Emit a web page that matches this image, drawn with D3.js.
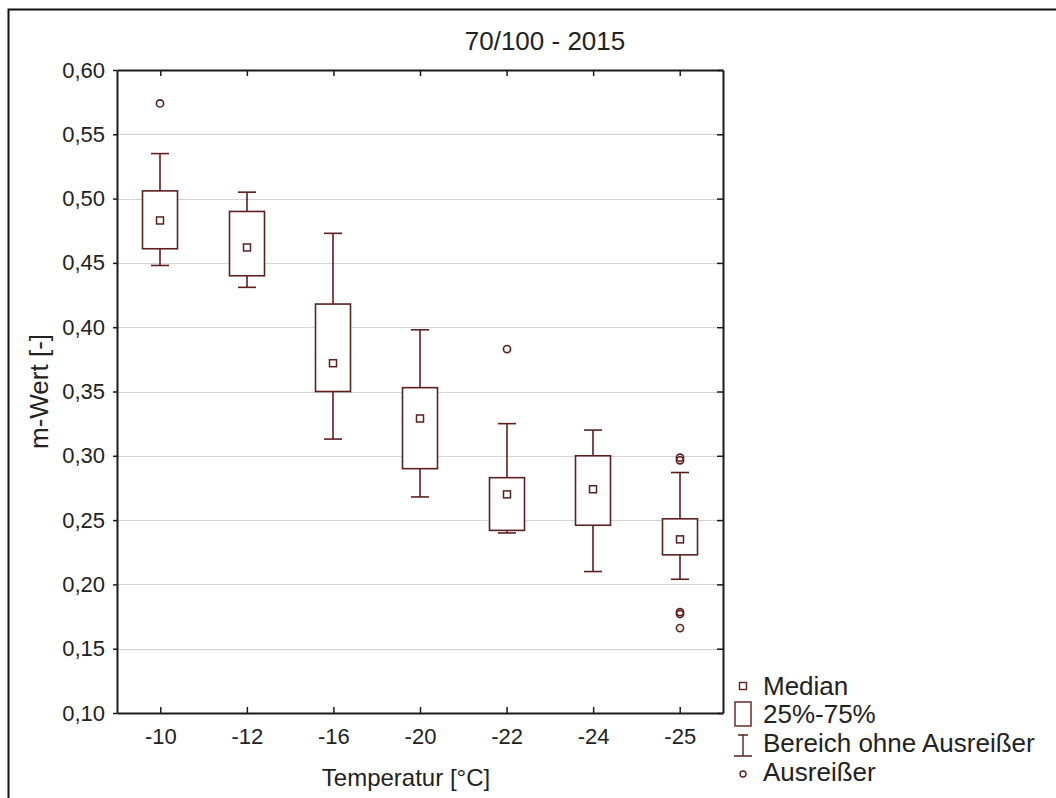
<!DOCTYPE html>
<html>
<head>
<meta charset="utf-8">
<script src="https://cdn.jsdelivr.net/npm/d3@7"></script>
<style>
    body { margin: 0; background: #fff; }
    svg { display: block; font-family: "Liberation Sans", Arial, sans-serif; }
</style>
</head>
<body>
<div id="chart"></div>
<script>
var categories = ["-10", "-12", "-16", "-20", "-22", "-24", "-25"];
var whiskerLow = [0.448, 0.431, 0.313, 0.268, 0.240, 0.210, 0.204];
var quartil1 = [0.461, 0.440, 0.350, 0.290, 0.242, 0.246, 0.223];
var medians = [0.483, 0.462, 0.372, 0.329, 0.270, 0.274, 0.235];
var quartil3 = [0.506, 0.490, 0.418, 0.353, 0.283, 0.300, 0.251];
var whiskerHigh = [0.535, 0.505, 0.473, 0.398, 0.325, 0.320, 0.287];
var outliers = [[0.574], [], [], [], [0.383], [], [0.2965, 0.2985, 0.177, 0.1785, 0.166]];
var yTicks = [0.10, 0.15, 0.20, 0.25, 0.30, 0.35, 0.40, 0.45, 0.50, 0.55, 0.60];
var legendLabels = ["Median", "25%-75%", "Bereich ohne Ausreißer", "Ausreißer"];

var W = 1056, H = 798;
var plot = { left: 117, right: 723, top: 70, bottom: 713 };
var boxColor = "#5e1f1f";
var textColor = "#222";

var svg = d3.select("#chart").append("svg")
    .attr("width", W)
    .attr("height", H);

// outer frame (runs off the right and bottom of the picture)
svg.append("path")
    .attr("d", "M8.5," + (H + 5) + "V9.5H" + (W + 5))
    .attr("fill", "none")
    .attr("stroke", "#111")
    .attr("stroke-width", 2);

var x = d3.scalePoint()
    .domain(categories)
    .range([plot.left, plot.right])
    .padding(0.5);

var y = d3.scaleLinear()
    .domain([0.10, 0.60])
    .range([plot.bottom, plot.top]);

var fmt = function (v) { return d3.format(".2f")(v).replace(".", ","); };

// grid
svg.append("g")
    .selectAll("line")
    .data(yTicks.slice(1, -1))
    .enter().append("line")
    .attr("x1", plot.left + 1)
    .attr("x2", plot.right - 1)
    .attr("y1", function (d) { return Math.round(y(d)) + 0.5; })
    .attr("y2", function (d) { return Math.round(y(d)) + 0.5; })
    .attr("stroke", "#d4d4d4")
    .attr("stroke-width", 1.2);

// axes
var axisStyle = function (g) {
    g.select(".domain").attr("stroke", "#1a1a1a").attr("stroke-width", 2);
    g.selectAll(".tick line").attr("stroke", "#1a1a1a").attr("stroke-width", 1.5);
    g.selectAll(".tick text")
        .attr("fill", textColor)
        .style("font-size", "22px");
};

svg.append("g")
    .attr("transform", "translate(0," + plot.bottom + ")")
    .call(d3.axisBottom(x).tickSizeInner(-6).tickSizeOuter(0).tickPadding(11))
    .call(axisStyle)
    .selectAll(".tick text").attr("dy", "0.9em");

svg.append("g")
    .attr("transform", "translate(0," + plot.top + ")")
    .call(d3.axisTop(x).tickSizeInner(-6).tickSizeOuter(0).tickFormat(""))
    .call(axisStyle);

svg.append("g")
    .attr("transform", "translate(" + plot.left + ",0)")
    .call(d3.axisLeft(y).tickValues(yTicks).tickFormat(fmt).tickSizeInner(4).tickSizeOuter(0).tickPadding(8))
    .call(axisStyle);

svg.append("g")
    .attr("transform", "translate(" + plot.right + ",0)")
    .call(d3.axisRight(y).tickValues(yTicks).tickSizeInner(-6).tickSizeOuter(0).tickFormat(""))
    .call(axisStyle);

// boxes
var boxW = 35, capW = 18, medS = 7;
var boxes = svg.append("g")
    .selectAll("g")
    .data(categories)
    .enter().append("g")
    .attr("transform", function (d) { return "translate(" + Math.round(x(d)) + ",0)"; });

boxes.append("line")
    .attr("y1", function (d, i) { return y(whiskerHigh[i]); })
    .attr("y2", function (d, i) { return y(whiskerLow[i]); })
    .attr("stroke", boxColor).attr("stroke-width", 1.6);

boxes.selectAll(".cap")
    .data(function (d, i) { return [whiskerLow[i], whiskerHigh[i]]; })
    .enter().append("line")
    .attr("class", "cap")
    .attr("x1", -capW / 2).attr("x2", capW / 2)
    .attr("y1", function (v) { return y(v); })
    .attr("y2", function (v) { return y(v); })
    .attr("stroke", boxColor).attr("stroke-width", 1.6);

boxes.append("rect")
    .attr("x", -boxW / 2)
    .attr("width", boxW)
    .attr("y", function (d, i) { return y(quartil3[i]); })
    .attr("height", function (d, i) { return y(quartil1[i]) - y(quartil3[i]); })
    .attr("fill", "#fff")
    .attr("stroke", boxColor).attr("stroke-width", 1.6);

boxes.append("rect")
    .attr("x", -medS / 2)
    .attr("width", medS)
    .attr("height", medS)
    .attr("y", function (d, i) { return y(medians[i]) - medS / 2; })
    .attr("fill", "#fff")
    .attr("stroke", boxColor).attr("stroke-width", 1.5);

boxes.selectAll(".out")
    .data(function (d, i) { return outliers[i]; })
    .enter().append("circle")
    .attr("class", "out")
    .attr("r", 3.6)
    .attr("cy", function (v) { return y(v); })
    .attr("fill", "none")
    .attr("stroke", boxColor).attr("stroke-width", 1.6);

// title and axis labels
svg.append("text")
    .attr("x", 545).attr("y", 50)
    .attr("text-anchor", "middle")
    .attr("fill", textColor)
    .style("font-size", "26px")
    .text("70/100 - 2015");

svg.append("text")
    .attr("x", 406).attr("y", 786)
    .attr("text-anchor", "middle")
    .attr("fill", textColor)
    .style("font-size", "24px")
    .text("Temperatur [°C]");

svg.append("text")
    .attr("transform", "translate(48," + (plot.top + plot.bottom) / 2 + ") rotate(-90)")
    .attr("text-anchor", "middle")
    .attr("fill", textColor)
    .style("font-size", "26px")
    .text("m-Wert [-]");

// legend
var lx = 743, rows = [686, 714, 743, 772];
var legend = svg.append("g");
legend.append("rect")
    .attr("x", lx - 3.5).attr("y", rows[0] - 3.5)
    .attr("width", 7).attr("height", 7)
    .attr("fill", "none").attr("stroke", boxColor).attr("stroke-width", 1.4);
legend.append("rect")
    .attr("x", lx - 8).attr("y", rows[1] - 12)
    .attr("width", 16).attr("height", 24)
    .attr("fill", "none").attr("stroke", boxColor).attr("stroke-width", 1.4);
legend.append("path")
    .attr("d", "M" + (lx - 5) + "," + (rows[2] - 8) + "H" + (lx + 5) +
        "M" + lx + "," + (rows[2] - 8) + "V" + (rows[2] + 13) +
        "M" + (lx - 9) + "," + (rows[2] + 13) + "H" + (lx + 9))
    .attr("fill", "none").attr("stroke", boxColor).attr("stroke-width", 1.4);
legend.append("circle")
    .attr("cx", lx).attr("cy", rows[3] + 2).attr("r", 3)
    .attr("fill", "none").attr("stroke", boxColor).attr("stroke-width", 1.4);

legend.selectAll("text")
    .data(legendLabels)
    .enter().append("text")
    .attr("x", 763)
    .attr("y", function (d, i) { return rows[i]; })
    .attr("dy", "0.36em")
    .attr("fill", textColor)
    .style("font-size", "26px")
    .text(function (d) { return d; });
</script>
</body>
</html>
